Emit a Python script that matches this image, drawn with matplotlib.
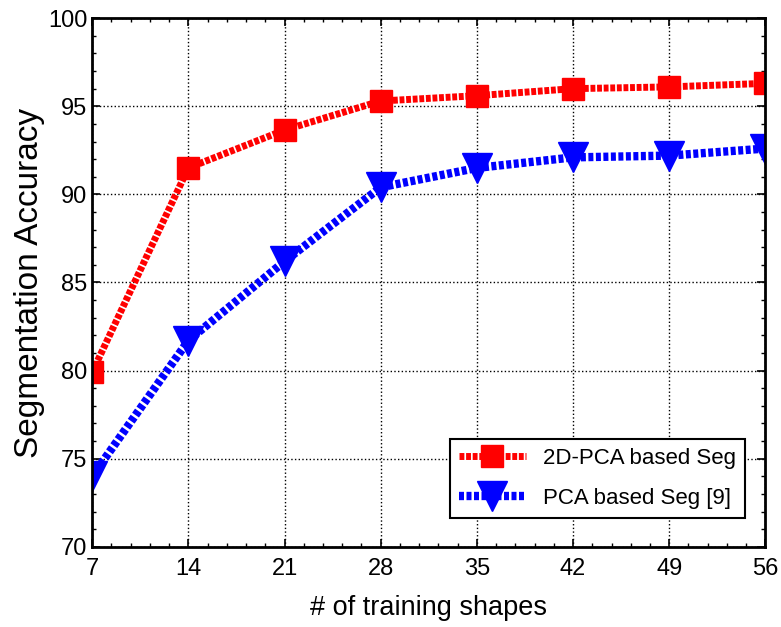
import numpy as np
import matplotlib.pyplot as plt
from matplotlib.ticker import MultipleLocator, AutoMinorLocator

plt.rcParams['font.family'] = ['Liberation Sans', 'DejaVu Sans']

# training set sizes and accuracies
shapes = [7, 14, 21, 28, 35, 42, 49, 56]
acc_2dpca = [79.9, 91.5, 93.65, 95.3, 95.6, 96.0, 96.1, 96.3]
acc_pca = [74.0, 81.7, 86.2, 90.4, 91.5, 92.1, 92.2, 92.6]

fig = plt.figure(figsize=(7.81, 6.27), dpi=100)
ax = fig.add_axes([0.118, 0.128, 0.862, 0.843])

ax.plot(shapes, acc_2dpca, color='red', linewidth=5, linestyle=(0, (0.7, 0.25)),
        marker='s', markersize=16, markerfacecolor='red', markeredgecolor='red',
        label='2D-PCA based Seg')
ax.plot(shapes, acc_pca, color='blue', linewidth=6, linestyle=(0, (0.6, 0.3)),
        marker='v', markersize=22, markerfacecolor='blue', markeredgecolor='blue',
        label='PCA based Seg [9]')

ax.set_xlim(7, 56)
ax.set_ylim(70, 100)
ax.set_xticks(shapes)
ax.yaxis.set_major_locator(MultipleLocator(5))
ax.xaxis.set_minor_locator(AutoMinorLocator(5))
ax.yaxis.set_minor_locator(AutoMinorLocator(5))
ax.tick_params(which='both', direction='in', top=True, right=True, labelsize=17)
ax.tick_params(which='major', length=6, width=1.2)
ax.tick_params(which='minor', length=3, width=1)
ax.tick_params(axis='x', pad=8)
ax.grid(True, which='major', color='black', linestyle=':', linewidth=1)
for s in ax.spines.values():
    s.set_linewidth(2)

ax.set_xlabel('# of training shapes', fontsize=19.5, labelpad=11)
ax.set_ylabel('Segmentation Accuracy', fontsize=24, labelpad=2)

leg = ax.legend(loc='lower right', bbox_to_anchor=(0.97, 0.055), fontsize=16,
                fancybox=False, framealpha=1, edgecolor='black',
                handlelength=3.0, labelspacing=0.85, borderaxespad=0)
leg.get_frame().set_linewidth(1.5)

fig.savefig('out.png', dpi=100)
